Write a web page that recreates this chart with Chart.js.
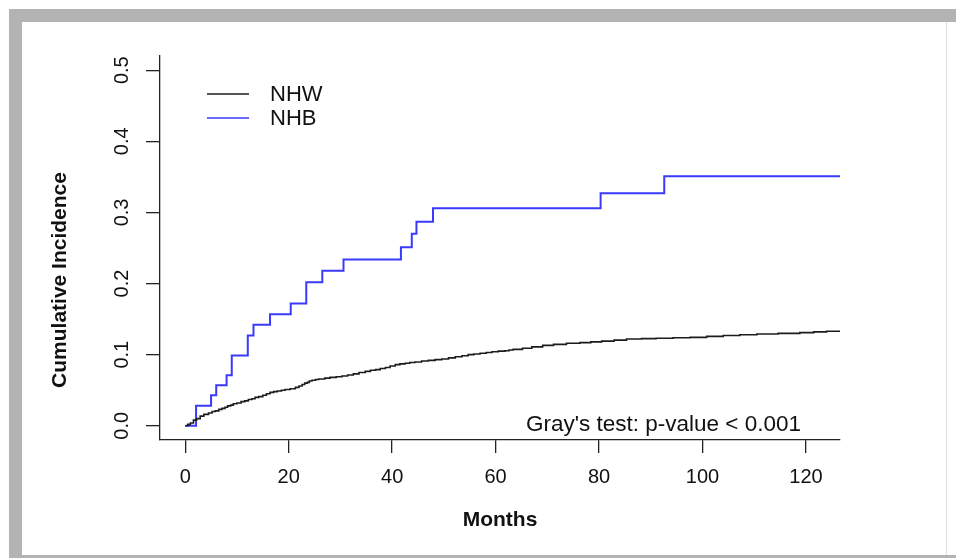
<!DOCTYPE html>
<html>
<head>
<meta charset="utf-8">
<script src="https://cdn.jsdelivr.net/npm/chart.js@4.4.1/dist/chart.umd.min.js"></script>
<style>
  html, body { margin: 0; padding: 0; background: #fff; }
  #frame { position: absolute; left: 9px; top: 9px; width: 947px; height: 549px; background: #b3b3b3; }
  #paper { position: absolute; left: 22px; top: 22px; width: 934px; height: 533px; background: #fff; }
  #edge { position: absolute; left: 946px; top: 22px; width: 1px; height: 533px; background: #dedede; }
  canvas { position: absolute; left: 0; top: 0; }
</style>
</head>
<body>
<div id="frame"></div>
<div id="paper"><canvas id="cif" width="923" height="533"></canvas></div>
<div id="edge"></div>
<script>
// NHB (blue) cumulative incidence, step changes
const nhbMonths = [0, 2.1, 5.0, 6.0, 8.0, 9.0, 12.1, 13.2, 16.4, 20.4, 23.4, 26.5, 30.6, 41.7, 43.8, 44.7, 47.9, 80.3, 92.6, 126.6];
const nhbValues = [0, 0.028, 0.043, 0.057, 0.071, 0.099, 0.127, 0.142, 0.157, 0.172, 0.202, 0.218, 0.234, 0.251, 0.270, 0.287, 0.306, 0.327, 0.351, 0.351];

// NHW (black) cumulative incidence, many small steps
const nhwMonths = [0, 0.5, 1.0, 1.6, 2.2, 2.9, 3.6, 4.5, 5.2, 5.8, 6.5, 7.1, 7.7, 8.2, 8.8, 9.3, 10.0, 10.8, 11.5, 12.2,
  12.9, 13.5, 14.2, 15.0, 15.7, 16.4, 17.1, 17.8, 18.6, 19.3, 20.3, 21.3, 22.0, 22.6, 23.1, 23.6, 24.0, 24.5, 25.2, 25.8,
  27.0, 28.0, 29.2, 30.3, 31.4, 32.5, 33.6, 34.8, 35.8, 36.8, 37.7, 38.7, 39.6, 40.6, 41.5, 42.5, 43.4, 44.4, 45.7, 47.0,
  48.3, 49.6, 50.9, 52.2, 53.5, 54.7, 55.8, 57.0, 58.2, 59.3, 60.5, 61.8, 62.6, 63.4, 65.2, 67.0, 69.1, 71.2, 73.7, 76.3,
  78.4, 80.5, 82.9, 85.3, 88.2, 91.0, 94.3, 97.6, 100.8, 104.0, 107.2, 110.5, 114.6, 118.8, 121.5, 124.0, 126.6];
const nhwValues = [0, 0.002, 0.004, 0.008, 0.010, 0.0136, 0.016, 0.018, 0.020, 0.021, 0.023, 0.0245, 0.026, 0.028, 0.029, 0.031, 0.032, 0.034, 0.035, 0.037,
  0.038, 0.040, 0.041, 0.043, 0.045, 0.047, 0.048, 0.049, 0.050, 0.051, 0.052, 0.054, 0.056, 0.058, 0.060, 0.061, 0.063, 0.064, 0.065, 0.0657,
  0.067, 0.068, 0.069, 0.070, 0.0715, 0.073, 0.075, 0.0765, 0.078, 0.079, 0.0805, 0.082, 0.084, 0.086, 0.087, 0.088, 0.089, 0.0896, 0.091, 0.092,
  0.093, 0.094, 0.0955, 0.097, 0.0985, 0.100, 0.101, 0.102, 0.103, 0.104, 0.105, 0.1055, 0.1065, 0.1075, 0.109, 0.111, 0.113, 0.1145, 0.116, 0.117,
  0.118, 0.119, 0.1205, 0.122, 0.1225, 0.123, 0.1237, 0.1243, 0.1257, 0.127, 0.128, 0.129, 0.130, 0.131, 0.132, 0.133, 0.1336];

const xTicks = [0, 20, 40, 60, 80, 100, 120];
const xTickLabels = ['0', '20', '40', '60', '80', '100', '120'];
const yTicks = [0, 0.1, 0.2, 0.3, 0.4, 0.5];
const yTickLabels = ['0.0', '0.1', '0.2', '0.3', '0.4', '0.5'];

const seriesNames = ['NHW', 'NHB'];
const seriesColors = ['#1c1c1c', '#3a3aff'];
const testNote = "Gray's test: p-value < 0.001";
const yTitle = 'Cumulative Incidence';

const FONT = "'Liberation Sans', Arial, Helvetica, sans-serif";

function pts(xs, ys) {
  return xs.map((x, i) => ({x: x, y: ys[i]}));
}

// legend, test note and y title drawn R style
const extras = {
  id: 'extras',
  afterDatasetsDraw(chart) {
    const ctx = chart.ctx;
    ctx.save();
    ctx.font = '22px ' + FONT;
    ctx.textBaseline = 'middle';
    chart.data.datasets.forEach((ds, i) => {
      const y = 72 + i * 24;
      ctx.strokeStyle = ds.borderColor;
      ctx.lineWidth = 1.6;
      ctx.beginPath();
      ctx.moveTo(185, y);
      ctx.lineTo(227, y);
      ctx.stroke();
      ctx.fillStyle = '#111';
      ctx.fillText(ds.label, 248, y + 1);
    });
    ctx.font = '22.5px ' + FONT;
    ctx.textAlign = 'right';
    ctx.textBaseline = 'alphabetic';
    ctx.fillText(testNote, 779, 409);

    ctx.translate(38, 258);
    ctx.rotate(-Math.PI / 2);
    ctx.font = 'bold 21px ' + FONT;
    ctx.textAlign = 'center';
    ctx.textBaseline = 'middle';
    ctx.fillText(yTitle, 0, 0);
    ctx.restore();
  }
};

new Chart(document.getElementById('cif'), {
  type: 'line',
  data: {
    datasets: [
      {label: seriesNames[0], data: pts(nhwMonths, nhwValues), borderColor: seriesColors[0], borderWidth: 1.6, stepped: 'before', pointRadius: 0, fill: false},
      {label: seriesNames[1], data: pts(nhbMonths, nhbValues), borderColor: seriesColors[1], borderWidth: 2, stepped: 'before', pointRadius: 0, fill: false}
    ]
  },
  options: {
    responsive: false,
    animation: false,
    layout: {padding: {left: 0, top: 34, right: 105, bottom: 0}},
    plugins: {legend: {display: false}, tooltip: {enabled: false}},
    scales: {
      x: {
        type: 'linear',
        min: -4.87,
        max: 126.57,
        afterFit: s => { s.height = 115; },
        afterBuildTicks: s => { s.ticks = xTicks.map(v => ({value: v})); },
        border: {display: true, color: '#222', width: 1.3},
        grid: {drawOnChartArea: false, drawTicks: true, tickLength: 13, color: '#222', lineWidth: 1.3},
        ticks: {
          callback: (v, i) => xTickLabels[i],
          color: '#111', padding: 12, maxRotation: 0, autoSkip: false,
          font: {family: FONT, size: 20}
        },
        title: {display: true, text: 'Months', color: '#111', padding: {top: 0, bottom: 22}, font: {family: FONT, size: 21, weight: 'bold'}}
      },
      y: {
        type: 'linear',
        min: -0.02,
        max: 0.52,
        afterFit: s => { s.width = 138; },
        afterBuildTicks: s => { s.ticks = yTicks.map(v => ({value: v})); },
        border: {display: true, color: '#222', width: 1.3},
        grid: {drawOnChartArea: false, drawTicks: true, tickLength: 14, color: '#222', lineWidth: 1.3},
        ticks: {
          callback: (v, i) => yTickLabels[i],
          color: '#111', padding: 10, minRotation: 90, maxRotation: 90, crossAlign: 'center', autoSkip: false,
          font: {family: FONT, size: 20}
        }
      }
    }
  },
  plugins: [extras]
});
</script>
</body>
</html>
